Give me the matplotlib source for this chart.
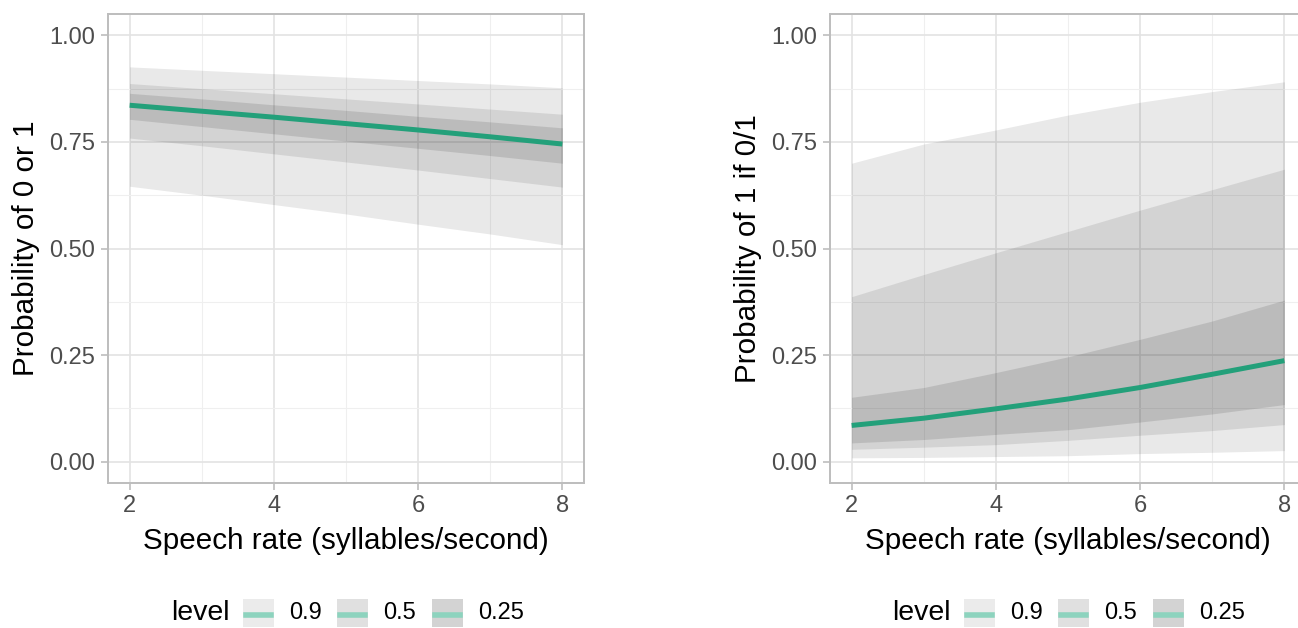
import matplotlib
matplotlib.use('Agg')
import matplotlib.pyplot as plt
import numpy as np
from matplotlib.patches import Rectangle
from matplotlib.lines import Line2D

plt.rcParams['font.family'] = ['Liberation Sans', 'DejaVu Sans']

# speech rate grid
rate = [2, 3, 4, 5, 6, 7, 8]

# left panel: probability of 0 or 1
p01_mid = [0.836, 0.822, 0.808, 0.793, 0.778, 0.762, 0.745]
p01_lo90 = [0.646, 0.625, 0.603, 0.581, 0.557, 0.534, 0.509]
p01_hi90 = [0.926, 0.918, 0.910, 0.902, 0.894, 0.886, 0.877]
p01_lo50 = [0.759, 0.741, 0.722, 0.703, 0.684, 0.664, 0.644]
p01_hi50 = [0.887, 0.875, 0.863, 0.851, 0.839, 0.827, 0.815]
p01_lo25 = [0.803, 0.786, 0.769, 0.752, 0.735, 0.718, 0.700]
p01_hi25 = [0.864, 0.851, 0.837, 0.824, 0.810, 0.797, 0.783]

# right panel: probability of 1 if 0/1
p1_mid = [0.085, 0.102, 0.124, 0.147, 0.174, 0.205, 0.237]
p1_lo90 = [0.009, 0.010, 0.012, 0.014, 0.019, 0.022, 0.026]
p1_hi90 = [0.700, 0.745, 0.778, 0.813, 0.843, 0.868, 0.891]
p1_lo50 = [0.029, 0.034, 0.040, 0.050, 0.062, 0.073, 0.087]
p1_hi50 = [0.387, 0.439, 0.490, 0.540, 0.590, 0.638, 0.686]
p1_lo25 = [0.044, 0.052, 0.064, 0.075, 0.093, 0.112, 0.134]
p1_hi25 = [0.151, 0.174, 0.209, 0.246, 0.287, 0.330, 0.379]

levels = ['0.9', '0.5', '0.25']
band_alpha = [0.085, 0.09, 0.11]
key_colors = ['#EBEBEB', '#E0E0E0', '#D3D3D3']
line_col = '#23A07A'

W, H = 1298, 628
fig = plt.figure(figsize=(W/100, H/100), dpi=100)

def fx(x):
    return x / W

def fy(y):
    return 1 - y / H

def setup(ax, ylabel):
    ax.set_xlim(1.7, 8.3)
    ax.set_ylim(-0.05, 1.05)
    ax.set_xticks([2, 4, 6, 8])
    ax.set_xticks([3, 5, 7], minor=True)
    ax.set_yticks([0, 0.25, 0.5, 0.75, 1.0])
    ax.set_yticklabels(['0.00', '0.25', '0.50', '0.75', '1.00'])
    ax.set_yticks([0.125, 0.375, 0.625, 0.875], minor=True)
    ax.grid(which='major', color='#E3E3E3', lw=1.2)
    ax.grid(which='minor', color='#EFEFEF', lw=0.8)
    ax.set_axisbelow(True)
    for s in ax.spines.values():
        s.set_color('#BDBDBD')
        s.set_linewidth(1.4)
    ax.tick_params(which='major', colors='#BDBDBD', labelcolor='#4D4D4D',
                   labelsize=17, length=5, width=1.2, pad=4)
    ax.tick_params(which='minor', length=0)
    ax.set_xlabel('Speech rate (syllables/second)', fontsize=21.3, labelpad=7)
    ax.set_ylabel(ylabel, fontsize=21.3, labelpad=7)

def draw(ax, mid, bands):
    for (lo, hi), a in zip(bands, band_alpha):
        ax.fill_between(rate, lo, hi, color='black', alpha=a, lw=0)
    ax.plot(rate, mid, color=line_col, lw=3.6, solid_capstyle='butt')

def legend(x0):
    yc = 613
    fig.text(fx(x0), fy(yc), 'level', fontsize=20.5, va='center', ha='left')
    keys = [72, 166, 261]
    for k, lab, c in zip(keys, levels, key_colors):
        kx = x0 + k
        fig.add_artist(Rectangle((fx(kx), fy(627)), 31 / W, 28 / H,
                                 transform=fig.transFigure, color=c, lw=0))
        fig.add_artist(Line2D([fx(kx + 3), fx(kx + 28)], [fy(615), fy(615)],
                              transform=fig.transFigure, color='#8DD3BE', lw=4))
        fig.text(fx(kx + 46), fy(yc), lab, fontsize=17, color='black',
                 va='center', ha='left')

ax1 = fig.add_axes([fx(108), fy(483), (584 - 108) / W, (483 - 14) / H])
setup(ax1, 'Probability of 0 or 1')
draw(ax1, p01_mid, [(p01_lo90, p01_hi90), (p01_lo50, p01_hi50), (p01_lo25, p01_hi25)])

ax2 = fig.add_axes([fx(830), fy(483), (1306 - 830) / W, (483 - 14) / H])
setup(ax2, 'Probability of 1 if 0/1')
draw(ax2, p1_mid, [(p1_lo90, p1_hi90), (p1_lo50, p1_hi50), (p1_lo25, p1_hi25)])

legend(171)
legend(892)

fig.savefig('out.png', dpi=100)
